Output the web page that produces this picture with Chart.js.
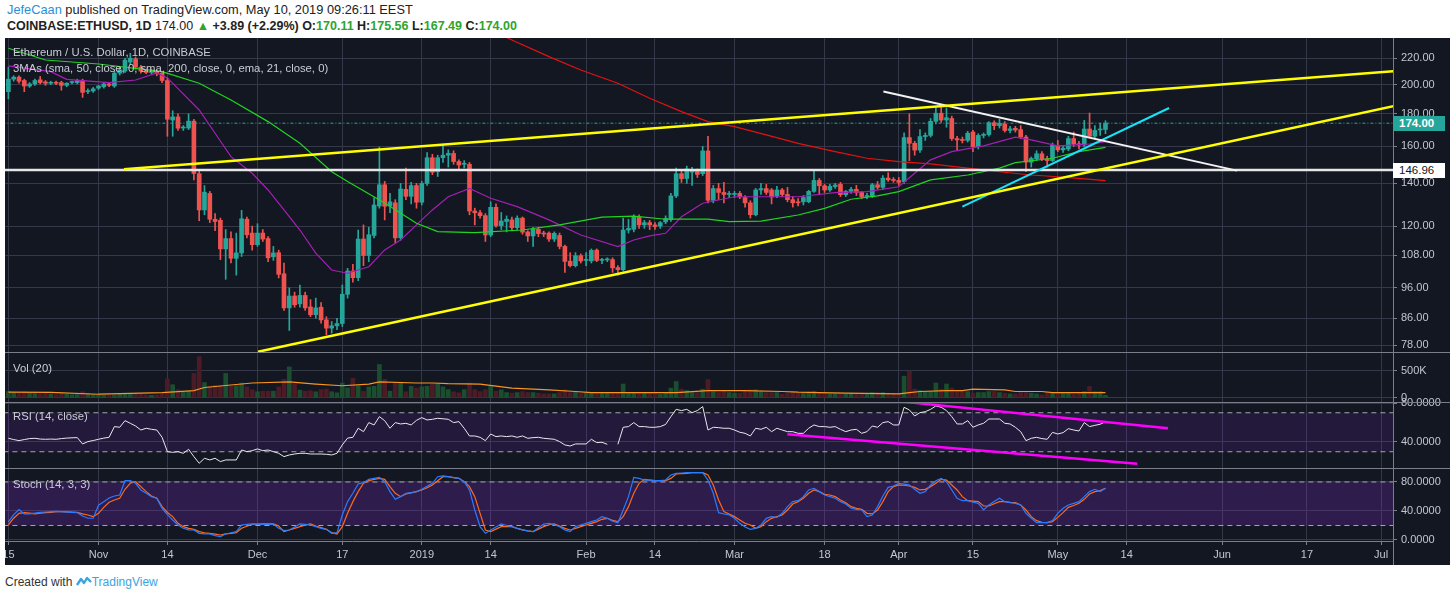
<!DOCTYPE html>
<html><head><meta charset="utf-8">
<script src="https://cdn.jsdelivr.net/npm/chart.js@4.4.1/dist/chart.umd.min.js"></script>
<style>
html,body{margin:0;padding:0;background:#fff;}
body{width:1450px;height:599px;overflow:hidden;position:relative;font-family:'Liberation Sans',Arial,sans-serif;}
.hdr{position:absolute;left:7px;white-space:nowrap;color:#222;}
#h1{top:2px;font-size:12.8px;}
#h2{top:19px;font-size:12.5px;font-weight:bold;}
.g{color:#2ea52e;}
#frame{position:absolute;left:5px;top:38px;width:1445px;height:527px;background:#131722;overflow:hidden;}
#frame canvas{position:absolute;left:0;}
.sep{position:absolute;left:0;width:1445px;height:1px;background:#7b7e88;z-index:5;}
.vsep{position:absolute;left:1388px;top:0;width:1px;height:527px;background:#7b7e88;z-index:5;}
.lbl{position:absolute;left:8px;color:#c9ccd4;font-size:11.3px;white-space:nowrap;z-index:6;}
.tag{position:absolute;left:1388px;width:46px;height:15px;line-height:15px;font-size:11.5px;padding-left:6px;z-index:7;}
#foot{position:absolute;left:5px;top:575px;font-size:12px;color:#333;white-space:nowrap;}
#foot .tv{color:#3ba3e0;}
</style></head>
<body>
<div class="hdr" id="h1"><span style="color:#2b8fd8">JefeCaan</span> published on TradingView.com, May 10, 2019 09:26:11 EEST</div>
<div class="hdr" id="h2">COINBASE:ETHUSD, 1D <span style="font-weight:normal">174.00</span> <span class="g">&#9650;</span> +3.89 (+2.29%) O:<span class="g">170.11</span> H:<span class="g">175.56</span> L:<span class="g">167.49</span> C:<span class="g">174.00</span></div>

<div id="frame">
  <canvas id="cMain" width="1445" height="322" style="top:0px"></canvas>
  <canvas id="cVol" width="1445" height="66" style="top:306px"></canvas>
  <canvas id="cRsi" width="1445" height="82" style="top:356px"></canvas>
  <canvas id="cSto" width="1445" height="105" style="top:422px"></canvas>
  <div class="sep" style="top:314px"></div>
  <div class="sep" style="top:364px"></div>
  <div class="sep" style="top:430px"></div>
  <div class="vsep"></div>
  <div class="lbl" style="top:8px">Ethereum / U.S. Dollar, 1D, COINBASE</div>
  <div class="lbl" style="top:24px">3MAs (sma, 50, close, 0, sma, 200, close, 0, ema, 21, close, 0)</div>
  <div class="lbl" style="top:324px">Vol (20)</div>
  <div class="lbl" style="top:372px">RSI (14, close)</div>
  <div class="lbl" style="top:440px">Stoch (14, 3, 3)</div>
  <div class="tag" style="top:78px;background:#26a69a;color:#fff;font-weight:bold;">174.00</div>
  <div class="tag" style="top:125px;background:#fff;color:#131722;">146.96</div>
</div>
<div id="foot">Created with <svg width="16" height="11" viewBox="0 0 16 11" style="vertical-align:-1px"><path d="M1 9 L5 3 L8 7 L11 2 L15 6" stroke="#3ba3e0" stroke-width="2.4" fill="none" stroke-linejoin="round"/></svg><span class="tv">TradingView</span></div>

<script>
// ---------- DATA ----------
const startDate = '2018-10-15'; // day index 0
const tickDays   = [0,17,30,47,63,78,91,109,122,137,154,168,182,198,211,229,245,259];
const tickLabels = ['15','Nov','14','Dec','17','2019','14','Feb','14','Mar','18','Apr','15','May','14','Jun','17','Jul'];
const priceTicks = [78,86,96,108,120,140,160,180,200,220];

const open = [
195,204,205.5,203,199,200.5,203.5,202,201,201.5,
201.5,199.5,201.5,201.5,203,195,195.5,197.5,198.5,200.5,
199,208.5,210,217,219.5,213,210,209,210,208.5,
203,176,178,171,171,175.3,145,127.2,135,123,
122.5,110.5,114.7,106.8,108.9,123,117,112.2,117,114.7,
107.4,109,101,89.3,93.2,90.6,93.4,89.6,87.1,89.5,
85.5,83,83.7,84.4,93.8,102,99.6,114.5,107.9,116,
129,139.3,129,130.5,115,137,133.6,138.9,130.8,140,
153.6,146,153.6,155,156,151.5,150,150,126.7,125.9,
124.6,116.2,128.4,120.2,122,122.7,119.3,123.5,117.5,115.8,
118.6,117,117,114.5,116,111.5,105.7,104,107.8,106,
105.8,110,106,106.2,106.3,103.3,102.5,118.3,118.6,124,
120.5,121.5,120.5,120,121.8,122.8,133.8,145,142.5,145.8,
146.7,145,157.4,131.7,137.4,135.5,134.5,134.5,135,133,
130.5,125,136.7,137.4,136.7,133.7,136.7,134.5,132,131,
131,131,136,141.5,138.8,136.7,138.4,139.5,134.4,136,
137,135.5,133.5,133.5,139.3,138,142.7,141.8,141.5,140.9,
165.2,161.8,157.9,165.8,166.5,175.2,180.4,176,177,164.6,
164,163.5,168.5,159.9,166.5,167,174.3,172.5,173.5,169.5,
170.8,170,165.5,151.2,153,155.8,153,152,160.6,158,
158.5,164.6,161.5,160.8,170.4,166,169.8,170.11];
const high = [
213,206.5,206.5,204,201.5,204,206,203,202.5,202.5,
202.5,201.5,202.5,204,204,197,198,199.5,201.5,201.5,
210,213,220,224,221,214.5,211.5,211.5,211,209.5,
205,182,180,172.5,180,176.5,147,138.9,136,125.5,
123.5,118.5,117.5,117,127,124,120,121,118.5,115.5,
111.5,110,105,96,94.5,97,94.5,92,92.5,91,
86.5,85,86,97,103,104.5,118.3,120.5,119.5,133,
159.7,141,135,132,140,148,140.5,140,141,156.5,
155.5,155,161,158,157.5,152.5,152,151,128,127,
125.5,131,130,126,124.5,124,124.5,124,118,119.5,
119.5,117.8,117.5,117.5,117,112,109,109,108.5,109,
110.5,110.5,106.8,107,107,104,123.5,123,125,125,
122.5,122.5,121.5,122,124.5,135,148,147,149,148.4,
147.5,160,166,139,140,140.5,136,136,136,134,
131.5,137.5,140,139.5,137.5,138.5,137.5,138,133.5,132.5,
134,136.5,146.8,142.5,139.5,139.5,140,140.5,136.5,138,
139,136,135,140,141,144,145.5,143,143,168,
180,163,170,168,177,184,184.5,184,178.5,166,
165.5,169,169.5,167.5,168,175,175.5,176.5,175,172,
172,172.5,166.5,154,157.5,157,154.5,162,163.5,160.5,
166,168.5,163,175.8,180.5,172.5,173.9,175.56];
const low = [
190,202.5,201,195,198,199.5,200.5,199.5,200,200,
196,198.5,200.5,200.5,191,193.5,194.5,196.5,197.5,198.5,
198,207,209,215,211.5,208.5,208,208,206.5,201.5,
166,166,169.5,169.5,170,141.8,122.3,125,121.5,118,
106.3,99,105,100.5,107.5,115,110,111.5,113.5,105.5,
106,99.5,88.5,82.3,89.5,89.5,88.5,86.5,86,84.5,
81,81.5,82.5,83.5,92.5,98,98.5,104,105.5,115,
128,122.7,126,113,114,132,130,128,129.5,139,
144.5,143.5,151,148.5,150,147.5,148,125,120.5,123.5,
113.5,115.5,119.5,118.5,117.5,118,118.5,116.5,113.5,111.5,
115.5,115.5,113.5,113.5,110.5,101.5,103.5,103.5,105,104,
105,105.5,104.8,105.5,101.5,100.5,102,117,117.5,119,
119,118.5,118.5,119,121,122,133,140.5,140,139,
143,144,130.5,130.5,132,130.5,133,133,132.5,128.5,
123.5,124.5,134.5,134.5,130,133,133.5,131,128.5,129,
129.5,130.5,135.5,134.5,135.5,136,137.5,133.5,133.5,135,
134,132.5,132.5,133,137,137,141,140.5,139,140,
152,155,156.5,163.5,165.5,173.5,174.5,171.5,163.5,158,
162,162.5,157,158.5,165,166,170,171,168.5,168,
168.5,164.5,146,148.5,152,152,148.5,151.5,157,156.5,
157.5,160,158.5,160,165,165,166.5,167.49];
const close = [
204,205.5,202.5,199,200.5,203,201.5,201,201.5,201,
199.5,201,202,203,194.5,195.5,197,199,200.5,199.5,
208.5,211,218.5,220,213,210,209,210,208,203,
176.5,178,170.9,171.5,175.3,145.1,127.2,135.6,123,122,
110.5,114.7,106.8,108.9,123.2,116.3,112.2,117,114.5,107,
108.9,100.8,89.3,93.2,90.3,93.4,89.3,87.1,89.3,85.5,
83,83.7,84.4,93.8,102,99.6,114.5,107.9,116.3,129.5,
139.3,128.9,131,115,137.2,133.6,138.9,130.8,140,153.6,
145.8,153.6,155,156,151.5,149.6,150.5,126.7,125.9,124.6,
116.2,128.4,120.2,122.2,123,119.3,123.5,117.4,115.8,118.6,
116.8,116.6,114.5,116.9,111.5,105.6,104,107.8,105.8,106.2,
109.9,106,106.2,106.3,103.2,102.5,118.3,119,124.2,120.5,
121.5,120.5,119.8,121.5,123.3,133.8,145,142.4,147.5,146.7,
144.6,157.4,131.7,137.4,135.5,134.5,135,135,133.3,130.5,
125,136.7,137.4,135.5,133.3,136.7,134.5,132,130.5,130.5,
133,136,141.5,138.8,136.7,138.5,139.2,134.4,136,137,
135.5,133.5,134,139.3,138,142.7,141.8,141.5,140.5,165.2,
161.8,157.9,165.8,166.5,175.2,180.4,176,177.5,164.6,163.8,
163.5,167.8,159.9,166.5,167,174.3,172.5,174,169.5,170.5,
169.8,165.5,151.2,153.2,155.8,153,152,160.6,158,159,
164.6,161.3,160.8,170.4,166,169.5,170.11,174];
// volume in thousands
const volumeK = [
115,95,85,110,90,80,75,80,70,60,
75,65,55,60,110,70,60,55,50,55,
50,65,70,80,70,60,50,45,50,70,
350,240,150,100,120,450,760,280,210,230,
220,450,210,220,270,200,150,110,120,120,
120,200,340,570,260,140,120,130,110,150,
160,110,90,270,180,360,220,120,200,210,
615,340,120,280,270,110,210,180,200,210,
250,250,200,150,110,90,150,270,150,113,
150,208,120,146,95,83,95,113,95,95,
83,70,70,70,95,146,95,113,83,95,
95,83,95,83,83,95,253,95,95,83,
83,83,83,64,95,177,300,158,133,95,
95,158,335,113,95,113,95,83,83,133,
146,146,113,95,95,95,64,83,113,83,
83,95,113,83,95,70,70,70,70,83,
83,83,70,95,95,95,83,70,70,397,
491,158,133,113,113,272,158,253,177,113,
113,113,83,95,95,113,113,95,83,70,
70,95,95,83,70,51,95,83,83,95,
83,70,83,113,208,113,113,45];
const volMaDay = [0,8,17,29,35,37,46,53,58,63,68,70,77,80,83,89,95,102,107,110,119,126,132,139,146,149,153,158,168,170,172,177,180,182,188,190,195,197,204,207];
const volMaK   = [102,100,64,92,132,189,272,291,252,221,252,291,272,272,260,252,177,145,114,95,95,95,132,132,114,102,95,83,70,95,114,132,132,158,145,114,114,95,95,95];

const sma50Day = [0,7,17,29,36,42,49,55,61,64,71,77,81,88,97,104,112,118,124,132,136,142,149,154,159,164,168,174,181,187,190,197,202,207];
const sma50Val = [228.1,218.6,215.5,209.6,201.0,189.2,175.0,161.8,146.0,140.9,130.4,121.2,117.6,117.2,118.3,120.5,123.9,124.4,123.0,123.0,121.9,122.2,124.9,127.9,132.2,133.8,135.9,141.8,144.3,147.9,150.9,153.3,157.0,159.5];
const sma200Day = [89,95,102,108,115,121,127,132,137,143,149,156,162,168,174,181,187,193,198,202,207];
const sma200Val = [248,235.0,221.3,210.9,201.0,190.4,181.4,175.0,171.9,166.8,161.8,157.0,153.3,151.4,150.2,147.9,146.0,144.3,143.4,142.6,141.4];
const ema21Day = [0,8,11,19,24,28,30,36,39,42,46,49,52,55,58,61,64,68,71,74,77,80,83,87,91,96,102,108,115,118,121,124,127,131,137,143,149,156,162,168,171,174,178,184,190,193,198,204,207];
const ema21Val = [214.0,209.6,203.9,201.4,203.4,208.6,204.9,182.5,167.8,154.2,145.2,136.7,127.2,118.3,108.8,102.4,101.2,103.6,110.1,114.1,120.5,127.2,133.4,137.5,132.7,128.7,122.7,116.2,111.4,114.1,115.8,116.9,124.1,130.3,133.4,133.4,133.4,135.4,135.9,138.3,145.2,152.4,157.0,160.3,165.4,163.8,160.3,161.4,162.8];

const rsi = [
43.8,42.5,41.4,42.5,43.5,43.8,43,42.8,43,42.8,
43.5,44,44.3,44.5,38,40.4,41.5,42.8,44,44.8,
55.8,55.1,61.9,59.2,56.4,52.3,54.1,53,52.3,44.8,
30.1,29.4,30.1,28.4,32.5,25,18.2,23.3,21.6,23.3,
19.9,21.6,21.6,21.6,31.8,30.1,31.1,32.9,31.1,31.8,
30.1,28.4,25,26.7,27.7,28.4,28.4,27.7,27.7,27.7,
27.4,26.7,28.4,37,44,44.8,54.1,50.6,59.9,57.5,
66,61.9,54.1,59.9,58.5,59.2,57.5,62.2,65,62.6,
63.3,64.3,63.8,63.3,59.9,60.9,54.1,46.2,46.2,44.8,
41.4,48.2,45.5,46.2,45.5,46.2,44.8,46.2,43.8,44.5,
44.8,43.8,43.3,42.8,40.4,37,35.9,38,38,38,
42.8,39.4,39.7,37.6,null,37.6,55.1,55.8,59.9,55.8,
55.8,55.1,55.1,55.8,58,66,73.5,72.2,73.5,70.1,
72.2,76.3,52.3,55.1,54.7,54.1,54.1,52.3,50,48.9,
46.2,54.1,53,55.1,50.6,54.1,52.3,50.6,50.6,48.9,
48.9,54.1,57.5,55.8,55.8,55.1,55.8,53,50.6,52.3,
53,48.9,50.6,56.4,55.1,59.9,60.9,57.5,57.5,75.6,
72.9,66.7,70.1,71.1,73.5,77,75.6,72.2,66,58.5,
58.5,61.9,55.1,57.5,59.2,63.6,63.6,63.6,59.2,58.5,
55.1,50.6,41.4,43.8,44.8,43.5,42.8,49.9,48.2,49.6,
53.7,52.3,51.3,59.9,55.8,57.1,58.2,60.9];
const stochK = [
25,35,42,36,36,37,38,38.6,39,39.5,
39,38.5,38,37.7,33,30,30,48,52.9,58,
60.7,62.1,81.8,81.8,78.2,69,64.4,59.8,57.5,43.7,
35,27.6,20.7,16.1,14,13.8,9.2,8.5,8.3,6,
4.6,8.3,10,11.5,20.7,21.5,22.1,22,21.6,21.6,
21.6,16.1,12.9,13.8,18,22.1,21.5,20.7,18.4,16,
14.7,9.2,10.1,34.5,52.9,64.4,77.2,79.1,83.7,85,
86.4,80.4,66.7,56.1,59.8,64.4,65.5,66.7,69.9,74,
78.2,87.3,88.3,87.3,86,85,80.4,69,41.4,18.4,
9.2,13.8,18,22.1,20,18.4,16.1,14,12.5,11.5,
17,22.1,23,21,18.4,14,11.5,18.4,20.7,23,
25.3,27.6,32.2,29.9,26,23.9,41.4,59.8,86.4,85,
82.7,82.7,81.8,82,82.7,89.6,91.9,92.4,92.9,92.9,
92.9,92.9,82.7,64.4,37.7,35.9,34.5,29.9,23,18,
14.7,16.1,20.7,29.9,32.2,31.2,36.8,46,52.9,54.2,
59.8,69,71.3,66.7,62,59.8,57.5,52.9,49.6,43.7,
42.3,41.4,32.2,34.5,46,60.7,72.6,74.5,78.2,77,
75.9,69.9,64.4,66.7,75.9,81.8,85,80.4,69,57.5,
54.2,54.2,52,50.6,41.4,48.3,53,57.5,52.9,51.5,
50.6,48.3,36.8,29.9,23.9,23.9,23.9,26.7,36.8,43.7,
48.3,50.6,52.9,59.8,66.7,69.9,66.7,71.3];
const stochD = [
20.7,30,36.8,37.7,37,35.9,37,37.7,38.2,39,
39.1,38.8,38.5,38.2,36,34.5,32.2,36.8,45,52,
55.2,57.5,69.9,78.2,80.4,73.6,66.7,60.7,57.5,46,
38,32.2,23,18.4,16,14.7,11.5,10,9.2,8,
6.9,8.3,9,10.1,16.1,19,21.6,22,22.1,22.1,
22.1,19.3,11.5,13.8,16,18.4,20.5,22.1,19.3,17,
14.7,10.1,8.3,18.4,36.8,52.9,66.7,78.2,81.8,83.5,
85,83.7,73.6,64.4,59.8,63.4,65,66.7,69,72,
75.9,81.8,87.3,87.3,86,85,80.4,73.6,59.8,36.8,
13.8,11.5,15,18.4,18.4,18.4,16.1,14,12.5,11.5,
15,18.4,21,22.1,19.3,16,13.8,16.1,18.5,20.7,
23,25.3,28.5,29.9,27,25.3,32.2,46,64.4,78.2,
83.7,82.7,81.8,81.8,81.8,85,91,91.5,91.9,92.9,
92.9,92.9,89.6,75.9,55.2,39.1,35.9,32.2,27.6,23,
20.7,16.1,18.4,25.3,29.9,32.2,34.5,41.4,49.6,52.9,
57.5,64.4,69,66.7,63,62.1,59.8,55.2,51.5,46,
43.7,42.3,36.8,35.9,41.4,52.9,66.7,73.6,75.9,75.5,
74.5,72.6,69,69.9,73.6,78.2,83.7,82.7,75.9,69,
59.8,54.2,53.5,52.9,46.9,46.9,50,52.9,52.9,52,
51.5,48.3,41.4,32.2,26.7,24.5,23.9,25.3,31.2,37.7,
45,47.5,50.6,56.1,63.4,66.7,68.1,71.3];

// drawn trend lines (day index, value)
const yellowUpperDay = [21.8, 261.3], yellowUpperVal = [147.3, 209.9];
const yellowLowerDay = [47.1, 261.3], yellowLowerVal = [76.2, 185.0];
const whiteDescDay = [165.1, 231.8], whiteDescVal = [195.1, 146.6];
const cyanDay = [180.0, 219.0], cyanVal = [128.7, 183.8];
const hLevel = 146.96;
const lastPrice = 174.00;
const rsiUpperDay = [167.6, 218.8], rsiUpperVal = [82.0, 54.0];
const rsiLowerDay = [147.0, 213.0], rsiLowerVal = [47.9, 17.7];
const rsiBands = [70, 30];
const stochBands = [80, 20];

// ---------- STYLE / HELPERS ----------
const GRID = '#343849', TXT = '#c3c6ce', SEP = '#7b7e88';
const UP = '#26a69a', DN = '#ef5350';
const FONT = {family:'Liberation Sans', size:11};
const xMin = -0.64, xMax = 261.25;
const isUp = close.map((c,i)=> c >= open[i]);
const pts = (days, vals) => days.map((d,k)=>({x:d, y:vals[k]}));
const hl = (v) => [{x:xMin-2,y:v},{x:xMax+2,y:v}];

function xScale(showLabels){
  return {type:'linear', min:xMin, max:xMax, offset:false,
    grid:{color:GRID, offset:false, drawTicks:showLabels, tickLength:4, tickColor:SEP},
    border:{display:showLabels, color:SEP},
    ticks:{display:showLabels, autoSkip:false, maxRotation:0, minRotation:0, padding:3, color:TXT, font:FONT,
      callback:(v,idx)=>tickLabels[idx]},
    afterBuildTicks:s=>{ s.ticks = tickDays.map(v=>({value:v})); },
    afterFit:s=>{ s.height = showLabels ? 24 : 0; s.paddingLeft = 0; s.paddingRight = 0; }
  };
}
function yScale(type, min, max, tickVals, fmt){
  return {type, position:'right', min, max,
    grid:{color:GRID, drawTicks:true, tickLength:4, tickColor:SEP},
    border:{display:true, color:SEP},
    ticks:{color:TXT, padding:4, font:FONT, autoSkip:false, callback:(v,idx)=>fmt(tickVals[idx])},
    afterBuildTicks:s=>{ s.ticks = tickVals.map(v=>({value:v})); },
    afterFit:s=>{ s.width = 57; s.paddingTop = 0; s.paddingBottom = 0; }
  };
}
function baseOptions(pad, showX, y){
  return {responsive:false, animation:false, devicePixelRatio:1, events:[],
    layout:{padding:{left:0,right:0,top:pad[0],bottom:pad[1]}},
    plugins:{legend:{display:false}, tooltip:{enabled:false}},
    scales:{x:xScale(showX), y:y}};
}
function line(data, color, width, order, extra){
  return Object.assign({type:'line', data, borderColor:color, borderWidth:width, pointRadius:0, tension:0, fill:false, order, clip:0}, extra||{});
}

// ---------- MAIN PRICE PANE ----------
new Chart(document.getElementById('cMain'), {
  type:'bar',
  data:{datasets:[
    line(pts(yellowUpperDay,yellowUpperVal), '#ffff00', 2.5, 1),
    line(pts(yellowLowerDay,yellowLowerVal), '#ffff00', 2.5, 1),
    line(pts(whiteDescDay,whiteDescVal), '#f2f2f2', 2, 1),
    line(pts(cyanDay,cyanVal), '#19e3f5', 2, 1),
    line(hl(hLevel), '#e6e6e6', 2.5, 1),
    line(pts(sma50Day,sma50Val), '#1fd51f', 1.2, 2),
    line(pts(sma200Day,sma200Val), '#e31212', 1.2, 2),
    line(pts(ema21Day,ema21Val), '#a51fb5', 1.2, 2),
    line(hl(lastPrice), '#26a69a', 1, 3, {borderDash:[3,2,1,2]}),
    {type:'bar', data: open.map((o,i)=>({x:i, y:[o, close[i]]})), backgroundColor: isUp.map(u=>u?UP:DN),
      barThickness:4, minBarLength:1, grouped:false, order:5, clip:0},
    {type:'bar', data: open.map((o,i)=>({x:i, y:[low[i], high[i]]})), backgroundColor: isUp.map(u=>u?UP:DN),
      barThickness:1, grouped:false, order:6, clip:0}
  ]},
  options: baseOptions([0,8], false, yScale('logarithmic', 76.14, 236.7, priceTicks, v=>v.toFixed(2)))
});

// ---------- VOLUME PANE ----------
new Chart(document.getElementById('cVol'), {
  type:'bar',
  data:{datasets:[
    line(pts(volMaDay, volMaK.map(v=>v*1000)), '#f7931e', 1.2, 1),
    {type:'bar', data: volumeK.map((v,i)=>({x:i, y:v*1000})), backgroundColor: isUp.map(u=>u?'#1b4d2f':'#4b1c25'),
      barThickness:4, grouped:false, order:5, clip:0}
  ]},
  options: baseOptions([8,8], false, yScale('linear', -80000, 846000, [0,500000], v=> v===0?'0':(v/1000)+'K'))
});

// ---------- RSI PANE ----------
new Chart(document.getElementById('cRsi'), {
  type:'line',
  data:{datasets:[
    line(hl(rsiBands[0]), '#a3a6ae', 1, 5, {borderDash:[5,4]}),
    line(hl(rsiBands[1]), '#a3a6ae', 1, 5, {borderDash:[5,4], fill:'-1', backgroundColor:'rgba(126,43,207,0.15)'}),
    line(rsi.map((v,i)=>({x:i,y:v})), '#e8e8ee', 1, 2, {spanGaps:false}),
    line(pts(rsiUpperDay,rsiUpperVal), '#ff00ff', 2.5, 1),
    line(pts(rsiLowerDay,rsiLowerVal), '#ff00ff', 2.5, 1)
  ]},
  options: baseOptions([8,8], false, yScale('linear', 13.33, 81.03, [80,40], v=>v.toFixed(4)))
});

// ---------- STOCH PANE ----------
new Chart(document.getElementById('cSto'), {
  type:'line',
  data:{datasets:[
    line(hl(stochBands[0]), '#a3a6ae', 1, 5, {borderDash:[5,4]}),
    line(hl(stochBands[1]), '#a3a6ae', 1, 5, {borderDash:[5,4], fill:'-1', backgroundColor:'rgba(126,43,207,0.25)'}),
    line(stochD.map((v,i)=>({x:i,y:v})), '#ff6a1a', 1.2, 2),
    line(stochK.map((v,i)=>({x:i,y:v})), '#2a7bff', 1.2, 1)
  ]},
  options: baseOptions([8,0], true, yScale('linear', -1.4, 99.3, [80,40,0], v=>v.toFixed(4)))
});
</script>
</body></html>
